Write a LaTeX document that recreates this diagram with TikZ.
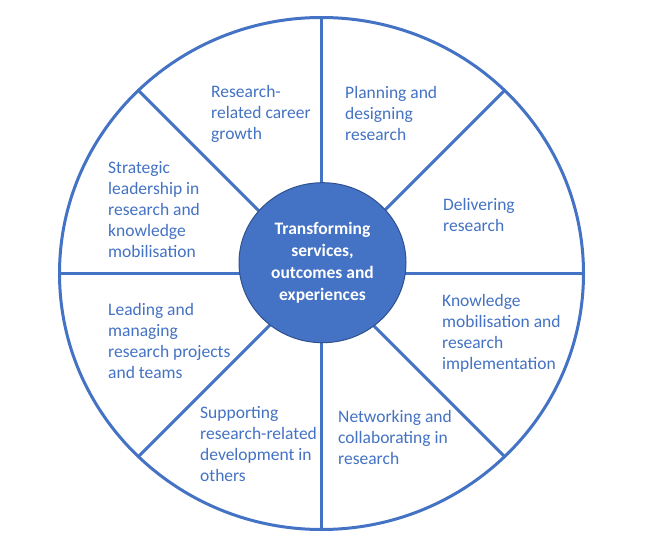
\documentclass[tikz,border=0pt]{standalone}
\usepackage{fontspec}
\setmainfont{Carlito}
\usetikzlibrary{shapes.geometric}
\definecolor{wheelblue}{RGB}{68,114,196}
\definecolor{hubedge}{RGB}{47,82,143}
\begin{document}
\begin{tikzpicture}[x=1pt,y=-1pt,
  rim/.style={draw=wheelblue, line width=3pt, ellipse, minimum width=524pt, minimum height=512pt, inner sep=0pt, outer sep=0pt},
  spoke/.style={draw=wheelblue, line width=3pt},
  hub/.style={ellipse, fill=wheelblue, draw=hubedge, line width=1pt, minimum width=167pt, minimum height=160pt, inner sep=0pt, text=white, font=\fontsize{17.5}{22}\selectfont\bfseries, align=center},
  segtext/.style={anchor=north west, inner sep=0pt, text=wheelblue, font=\fontsize{17.5}{21}\selectfont, align=left}]
\useasboundingbox[fill=white] (0,0) rectangle (651,551);
\node[rim] (rim) at (321.5,273.5) {};
\foreach \a in {0,45,...,315} \draw[spoke] (rim.center) -- (rim.\a);
\node[hub] (hub) at (322.5,262.7) {Transforming\\services,\\outcomes and\\experiences};
\node[segtext] (t1) at (211,85.5) {Research-\\related career\\growth};
\node[segtext] (t2) at (345,86) {Planning and\\designing\\research};
\node[segtext] (t3) at (443,198.5) {Delivering\\research};
\node[segtext] (t4) at (108,161.5) {Strategic\\leadership in\\research and\\knowledge\\mobilisation};
\node[segtext] (t5) at (108,303) {Leading and\\managing\\research projects\\and teams};
\node[segtext] (t6) at (442,294) {Knowledge\\mobilisation and\\research\\implementation};
\node[segtext] (t7) at (200,406) {Supporting\\research-related\\development in\\others};
\node[segtext] (t8) at (338,410) {Networking and\\collaborating in\\research};
\end{tikzpicture}
\end{document}
